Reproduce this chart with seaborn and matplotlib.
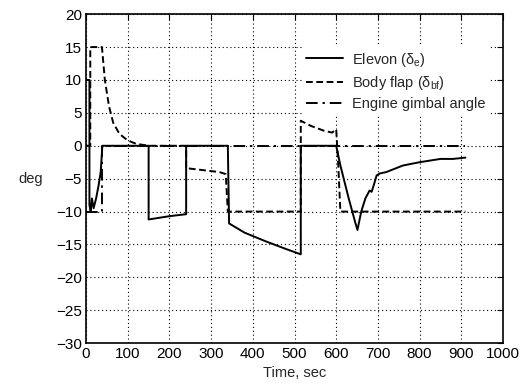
import matplotlib
matplotlib.use("Agg")
import matplotlib.pyplot as plt
import seaborn as sns
import pandas as pd

# Elevon (solid)
elevon_t = [0, 8, 8, 11, 14, 18, 24, 30, 35, 39, 150, 150, 200, 240, 240, 340, 343, 380, 430, 480, 515, 515, 600,
            610, 630, 645, 651, 660, 670, 680, 685, 690, 697, 705, 720, 760, 800, 850, 880, 910]
elevon_v = [10, 10, -9, -10, -8, -9.5, -8, -6, -4, 0, 0, -11.2, -10.7, -10.4, 0, 0, -11.8, -13.2, -14.5, -15.7, -16.5, 0, 0,
            -3, -8, -11.5, -12.8, -10, -8, -6.8, -7, -6, -4.5, -4.2, -4, -3, -2.5, -2, -2, -1.8]

# Body flap (dashed)
flap_t = [0, 10, 10, 38, 45, 55, 65, 80, 100, 120, 150, 240, 240, 280, 320, 335, 340, 515, 515, 540, 570, 590, 600, 605, 610, 910]
flap_v = [0, 0, 15, 15, 10, 6, 3.5, 1.8, 0.8, 0.3, 0, 0, -3.4, -3.7, -4.0, -4.3, -10, -10, 3.8, 3.0, 2.3, 2.0, 2.5, -3, -10, -10]

# Engine gimbal angle (dash-dot)
gimbal_t = [0, 38, 38, 910]
gimbal_v = [-10, -10, 0, 0]

labels = [r'Elevon ($\delta_e$)', r'Body flap ($\delta_{bf}$)', 'Engine gimbal angle']
xticks = list(range(0, 1001, 100))
yticks = list(range(-30, 21, 5))

sns.set_style("white")
plt.rcParams['font.family'] = ['Liberation Sans', 'DejaVu Sans']
plt.rcParams['mathtext.fontset'] = 'custom'
plt.rcParams['mathtext.rm'] = 'Liberation Sans'
plt.rcParams['mathtext.it'] = 'Liberation Sans'

fig = plt.figure(figsize=(5.25, 3.83), dpi=100)
ax = fig.add_axes([0.164, 0.104, 0.794, 0.859])

series = [(elevon_t, elevon_v, '-', labels[0]),
          (flap_t, flap_v, (0, (3.5, 1.8)), labels[1]),
          (gimbal_t, gimbal_v, (0, (6, 2.5, 1.2, 2.5)), labels[2])]
for t, v, ls, lab in series:
    df = pd.DataFrame({'t': t, 'v': v})
    sns.lineplot(data=df, x='t', y='v', ax=ax, color='black', linewidth=1.4,
                 linestyle=ls, sort=False, estimator=None, label=lab)

ax.set_xlim(0, 1000)
ax.set_ylim(-30, 20)
ax.set_xticks(xticks)
ax.set_yticks(yticks)
ax.grid(True, color='black', linestyle=(0, (1, 2.5)), linewidth=0.8)
ax.tick_params(direction='in', top=True, right=True, length=4, labelsize=11, colors='black', pad=3)
for s in ax.spines.values():
    s.set_color('black')
    s.set_linewidth(1.2)
ax.set_xlabel('Time, sec', fontsize=10.5, labelpad=3)
ax.set_ylabel('deg', fontsize=10.5, rotation=0, labelpad=18, va='center')

leg = ax.legend(loc='upper right', bbox_to_anchor=(0.985, 0.925), frameon=True, fancybox=False,
                edgecolor='white', framealpha=1, fontsize=10.5, handlelength=2.5,
                handletextpad=0.6, labelspacing=0.35, borderpad=0.3)
leg.get_frame().set_linewidth(0)

fig.savefig('out.png', dpi=100)
